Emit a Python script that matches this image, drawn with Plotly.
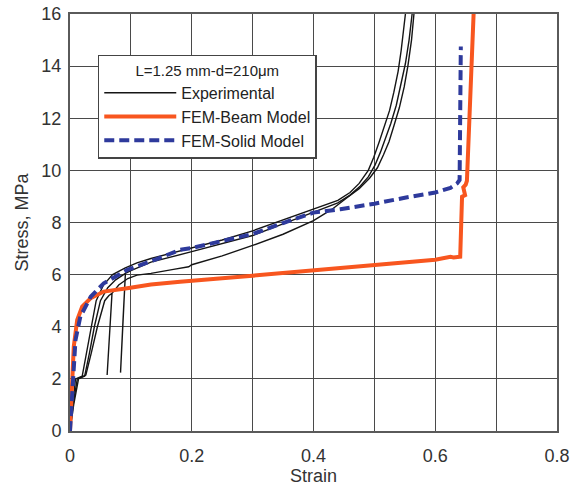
import plotly.graph_objects as go

# ---------------- data ----------------
exp1_strain = [0, 0.004, 0.009, 0.020, 0.027, 0.034, 0.043, 0.055, 0.070, 0.090, 0.110, 0.133,
               0.160, 0.200, 0.250, 0.300, 0.350, 0.400, 0.440, 0.460, 0.475, 0.490, 0.499,
               0.508, 0.517, 0.525, 0.532, 0.539, 0.544, 0.548, 0.551]
exp1_stress = [0, 1.0, 2.0, 2.1, 3.0, 4.0, 5.0, 5.6, 6.0, 6.25, 6.45, 6.62,
               6.78, 7.01, 7.33, 7.68, 8.10, 8.50, 8.85, 9.15, 9.50, 10.0, 10.5,
               11.1, 11.7, 12.3, 13.0, 13.8, 14.6, 15.3, 16.0]

exp2_strain = [0, 0.005, 0.012, 0.024, 0.032, 0.040, 0.050, 0.062, 0.075, 0.085, 0.091,
               0.087, 0.083, 0.087, 0.091, 0.100, 0.133, 0.200, 0.250, 0.300, 0.350, 0.400,
               0.440, 0.460, 0.477, 0.490, 0.501, 0.510, 0.518, 0.527, 0.536, 0.544,
               0.551, 0.557, 0.562]
exp2_stress = [0, 1.0, 2.0, 2.1, 3.0, 4.0, 5.0, 5.5, 5.8, 5.95, 6.05,
               4.2, 2.24, 4.2, 6.05, 6.15, 6.48, 6.88, 7.18, 7.50, 7.95, 8.38,
               8.75, 9.05, 9.40, 9.75, 10.2, 10.7, 11.2, 11.8, 12.5, 13.3,
               14.1, 15.0, 16.0]

exp3_strain = [0, 0.006, 0.014, 0.026, 0.035, 0.045, 0.057, 0.064, 0.069,
               0.065, 0.061, 0.065, 0.069, 0.080, 0.095, 0.110, 0.133, 0.170, 0.195, 0.200,
               0.250, 0.300, 0.350, 0.400, 0.430, 0.455, 0.475, 0.492, 0.505, 0.515,
               0.524, 0.532, 0.541, 0.549, 0.555, 0.561, 0.565]
exp3_stress = [0, 1.0, 2.0, 2.15, 3.0, 4.0, 5.0, 5.2, 5.28,
               3.7, 2.15, 3.7, 5.28, 5.6, 5.85, 5.98, 6.05, 6.2, 6.3, 6.38,
               6.72, 7.12, 7.55, 8.07, 8.50, 8.95, 9.30, 9.70, 10.1, 10.6,
               11.1, 11.7, 12.4, 13.2, 14.0, 15.0, 16.0]

beam_strain = [0, 0.0036, 0.0062, 0.0118, 0.020, 0.0337, 0.0555, 0.094, 0.133, 0.181,
               0.200, 0.250, 0.300, 0.350, 0.400, 0.450, 0.500, 0.550, 0.575, 0.600,
               0.625, 0.630, 0.641, 0.644, 0.649, 0.646, 0.650, 0.652, 0.663]
beam_stress = [0, 1.96, 3.24, 4.26, 4.77, 5.09, 5.35, 5.48, 5.62, 5.73,
               5.76, 5.86, 5.96, 6.06, 6.16, 6.27, 6.38, 6.46, 6.50, 6.57,
               6.68, 6.66, 6.69, 8.99, 9.05, 9.35, 9.45, 9.60, 16.0]

solid_strain = [0, 0.0036, 0.009, 0.017, 0.034, 0.0555, 0.094, 0.138, 0.181, 0.200,
                0.250, 0.300, 0.350, 0.400, 0.444, 0.500, 0.550, 0.600, 0.625, 0.636,
                0.640, 0.642]
solid_stress = [0, 1.57, 3.49, 4.39, 5.15, 5.67, 6.18, 6.56, 6.95, 7.02,
                7.30, 7.56, 7.98, 8.38, 8.51, 8.72, 8.95, 9.15, 9.33, 9.50,
                9.63, 14.75]

legend_title = "L=1.25 mm-d=210μm"
x_ticks = [0, 0.2, 0.4, 0.6, 0.8]
y_ticks = [0, 2, 4, 6, 8, 10, 12, 14, 16]

FONT = "Liberation Sans, Arial, sans-serif"
GRID = "#4a4a4a"

fig = go.Figure()

for i, (xs, ys) in enumerate([(exp1_strain, exp1_stress),
                              (exp2_strain, exp2_stress),
                              (exp3_strain, exp3_stress)]):
    fig.add_trace(go.Scatter(
        x=xs, y=ys, mode="lines", name="Experimental",
        legendgroup="exp", showlegend=(i == 0),
        line=dict(color="#151515", width=1.4)))

fig.add_trace(go.Scatter(
    x=beam_strain, y=beam_stress, mode="lines", name="FEM-Beam Model",
    line=dict(color="#F8561F", width=4)))

fig.add_trace(go.Scatter(
    x=solid_strain, y=solid_stress, mode="lines", name="FEM-Solid Model",
    line=dict(color="#2E3A9C", width=4, dash="10px,5px")))

axis_common = dict(
    showline=True, linecolor="#5a5a5a", linewidth=2, mirror=True,
    showgrid=True, gridcolor=GRID, gridwidth=1.3,
    zeroline=False, ticks="", automargin=False,
    tickfont=dict(family=FONT, size=18, color="#333"),
)

fig.update_xaxes(
    range=[0, 0.8], tickvals=x_ticks, ticklabelstandoff=7,
    minor=dict(dtick=0.1, showgrid=True, gridcolor=GRID, gridwidth=1.3),
    title=dict(text="Strain", font=dict(family=FONT, size=18, color="#333"), standoff=8),
    **axis_common)
fig.update_yaxes(
    range=[0, 16], tickvals=y_ticks, ticklabelstandoff=3,
    title=dict(text="Stress, MPa", font=dict(family=FONT, size=18, color="#333"), standoff=8),
    **axis_common)

fig.update_layout(
    width=570, height=486,
    margin=dict(l=70, r=13, t=14, b=55),
    paper_bgcolor="white", plot_bgcolor="white",
    showlegend=True,
    legend=dict(
        x=0.057, y=0.902, xanchor="left", yanchor="top",
        bgcolor="white", bordercolor="#444", borderwidth=1.5,
        font=dict(family=FONT, size=16, color="#222"),
        title=dict(text=legend_title, side="top center",
                   font=dict(family=FONT, size=15, color="#222")),
        itemwidth=72, tracegroupgap=0,
    ),
)

fig.write_html("out.html")
